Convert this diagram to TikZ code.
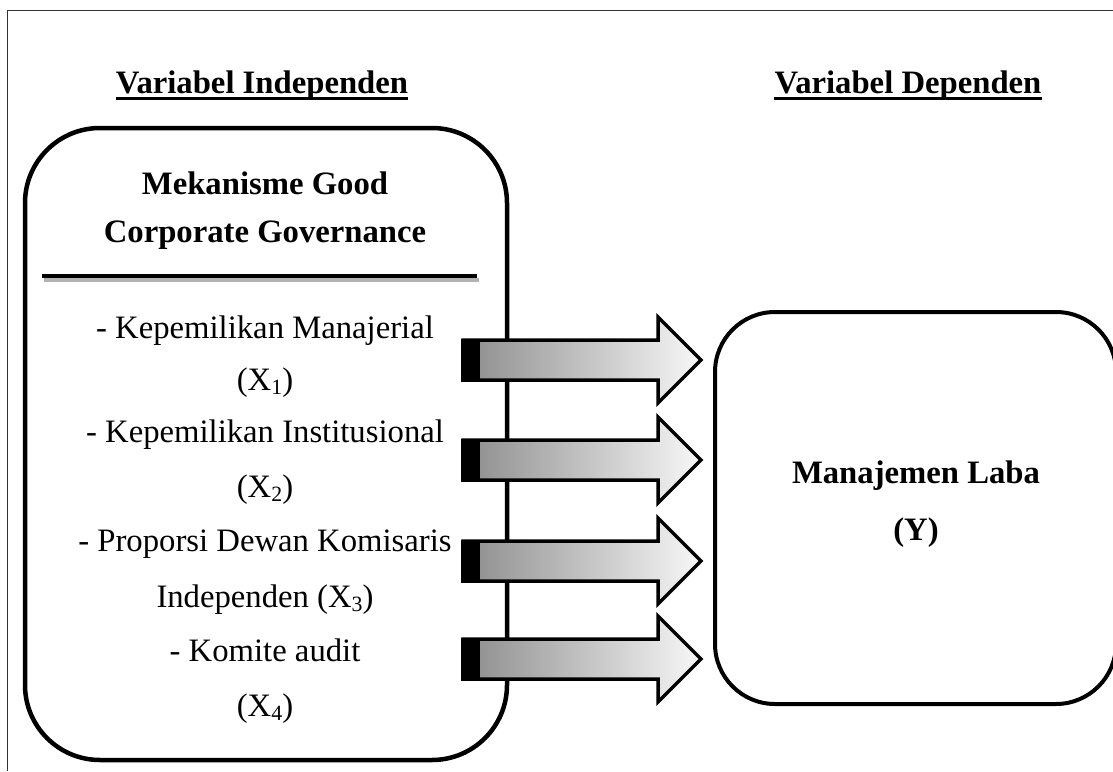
\documentclass[tikz,border=0pt]{standalone}
\usepackage{fontspec}
\setmainfont{Liberation Serif}
\usetikzlibrary{calc}
\newcommand{\xsub}[1]{\raisebox{-4.5pt}{\fontsize{21.8}{22}\selectfont #1}}
% block arrow, #1 = y of its axis
\newcommand{\fatarrow}[1]{%
	\shadedraw[left color=black!45, right color=black!3, line width=3.5pt, line join=miter]
		(463,#1-20) -- (658,#1-20) -- (658,#1-43) -- (701,#1) -- (658,#1+43) -- (658,#1+20) -- (463,#1+20) -- cycle;
	\fill (461,#1-21.5) rectangle (480,#1+21.5);}

\begin{document}
\begin{tikzpicture}[x=1pt,y=-1pt,
		txt/.style={inner sep=0pt, anchor=base, font=\fontsize{32.7}{39}\selectfont},
		bold/.style={inner sep=0pt, anchor=base, font=\fontsize{32.7}{39}\selectfont\bfseries},
		panel/.style={draw, line width=4.5pt, inner sep=0pt}]
		\useasboundingbox (0,0) rectangle (1113,771);
		\clip (0,0) rectangle (1113,771);
		%%%%% START %%%%%
		\draw[line width=1pt, black!80] (7,771) -- (7,10.5) -- (1113,10.5);
		
		\node[bold] (vi) at (262,93) {Variabel Independen};
		\node[bold] (vd) at (908,93) {Variabel Dependen};
		\draw[line width=3pt] ([yshift=-5.5pt]vi.base west) -- ([yshift=-5.5pt]vi.base east);
		\draw[line width=3pt] ([yshift=-5.5pt]vd.base west) -- ([yshift=-5.5pt]vd.base east);
		
		\node[panel, rounded corners=75pt, minimum width=482pt, minimum height=632pt] (gcg) at (266,444) {};
		\node[panel, rounded corners=60pt, line width=4pt, minimum width=401pt, minimum height=392pt] (ml) at (915.5,508) {};
		
		\node[bold] (t1) at (265,194) {Mekanisme Good};
		\node[bold] (t2) at (265,242) {Corporate Governance};
		\draw[line width=4.5pt, black!30] (44,280) -- (479,280);
		\draw[line width=4.5pt] (42,276) -- (477,276);
		
		\node[txt] (x1a) at (265,338) {- Kepemilikan Manajerial};
		\node[txt] (x1b) at (265,390) {(X\xsub{1})};
		\node[txt] (x2a) at (265,442) {- Kepemilikan Institusional};
		\node[txt] (x2b) at (265,497) {(X\xsub{2})};
		\node[txt] (x3a) at (265,551) {- Proporsi Dewan Komisaris};
		\node[txt] (x3b) at (265,607) {Independen (X\xsub{3})};
		\node[txt] (x4a) at (265,661) {- Komite audit};
		\node[txt] (x4b) at (265,716) {(X\xsub{4})};
		
		\fatarrow{360}
		\fatarrow{460}
		\fatarrow{561}
		\fatarrow{659}
		
		\node[bold] (y1) at (916,483) {Manajemen Laba};
		\node[bold] (y2) at (916,540) {(Y)};
		%%%%% END %%%%%
	\end{tikzpicture}
\end{document}
